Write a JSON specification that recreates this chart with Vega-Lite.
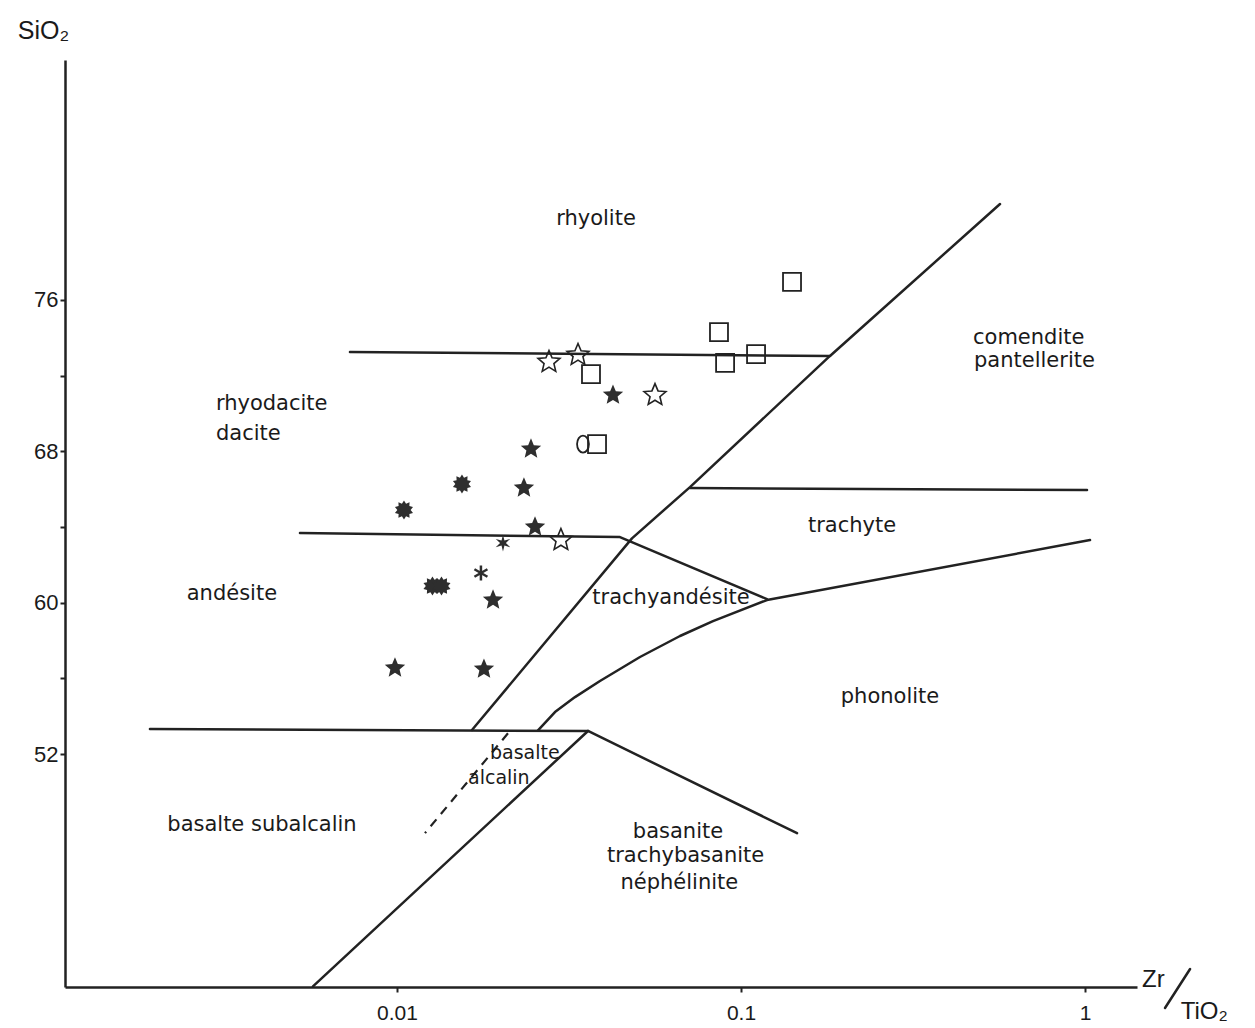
{
  "$schema": "https://vega.github.io/schema/vega-lite/v6.json",
  "width": 1072,
  "height": 927,
  "autosize": {"type": "none"},
  "padding": {"left": 65, "top": 60, "right": 118, "bottom": 41},
  "background": "white",
  "config": {"view": {"stroke": null}, "axis": {"grid": false}},
  "datasets": {
    "lines": [
      {"seg": "rhy", "ord": 1, "zr": 0.0073, "si": 73.25},
      {"seg": "rhy", "ord": 2, "zr": 0.1814, "si": 73.04},
      {"seg": "diag", "ord": 1, "zr": 0.01652, "si": 53.27},
      {"seg": "diag", "ord": 2, "zr": 0.0482, "si": 63.4},
      {"seg": "diag", "ord": 3, "zr": 0.07107, "si": 66.11},
      {"seg": "diag", "ord": 4, "zr": 0.1814, "si": 73.04},
      {"seg": "diag", "ord": 5, "zr": 0.5661, "si": 81.07},
      {"seg": "and", "ord": 1, "zr": 0.005224, "si": 63.68},
      {"seg": "and", "ord": 2, "zr": 0.04448, "si": 63.47},
      {"seg": "and", "ord": 3, "zr": 0.119, "si": 60.19},
      {"seg": "trt", "ord": 1, "zr": 0.07107, "si": 66.06},
      {"seg": "trt", "ord": 2, "zr": 1.0135, "si": 65.95},
      {"seg": "pho", "ord": 1, "zr": 0.0257, "si": 53.25},
      {"seg": "pho", "ord": 2, "zr": 0.02879, "si": 54.22},
      {"seg": "pho", "ord": 3, "zr": 0.03292, "si": 55.01},
      {"seg": "pho", "ord": 4, "zr": 0.03891, "si": 55.86},
      {"seg": "pho", "ord": 5, "zr": 0.05086, "si": 57.13},
      {"seg": "pho", "ord": 6, "zr": 0.06648, "si": 58.24},
      {"seg": "pho", "ord": 7, "zr": 0.08291, "si": 59.03},
      {"seg": "pho", "ord": 8, "zr": 0.119, "si": 60.14},
      {"seg": "pho", "ord": 9, "zr": 1.034, "si": 63.31},
      {"seg": "bas", "ord": 1, "zr": 0.001914, "si": 53.32},
      {"seg": "bas", "ord": 2, "zr": 0.03591, "si": 53.22},
      {"seg": "bsn", "ord": 1, "zr": 0.03591, "si": 53.22},
      {"seg": "bsn", "ord": 2, "zr": 0.1455, "si": 47.82},
      {"seg": "sub", "ord": 1, "zr": 0.03591, "si": 53.22},
      {"seg": "sub", "ord": 2, "zr": 0.005699, "si": 39.72},
      {"seg": "slash", "ord": 1, "zr": 1.708, "si": 38.58},
      {"seg": "slash", "ord": 2, "zr": 2.02, "si": 40.64}
    ],
    "dashed": [
      {"seg": "dash", "ord": 1, "zr": 0.02102, "si": 53.1},
      {"seg": "dash", "ord": 2, "zr": 0.01206, "si": 47.82}
    ],
    "points": [
      {"kind": "sq", "zr": 0.1407, "si": 76.95},
      {"kind": "sq", "zr": 0.0863, "si": 74.3},
      {"kind": "sq", "zr": 0.0899, "si": 72.67},
      {"kind": "sq", "zr": 0.1106, "si": 73.14},
      {"kind": "sq", "zr": 0.03664, "si": 72.08},
      {"kind": "sq", "zr": 0.03815, "si": 68.38},
      {"kind": "circ", "zr": 0.03473, "si": 68.38},
      {"kind": "ostar", "zr": 0.02766, "si": 72.72},
      {"kind": "ostar", "zr": 0.03359, "si": 73.09},
      {"kind": "ostar", "zr": 0.05623, "si": 70.97},
      {"kind": "ostar", "zr": 0.02996, "si": 63.31},
      {"kind": "fstar", "zr": 0.04245, "si": 70.97},
      {"kind": "fstar", "zr": 0.02452, "si": 68.12},
      {"kind": "fstar", "zr": 0.02339, "si": 66.06},
      {"kind": "fstar", "zr": 0.02519, "si": 64.0},
      {"kind": "fstar", "zr": 0.01902, "si": 60.14},
      {"kind": "fstar", "zr": 0.009867, "si": 56.55},
      {"kind": "fstar", "zr": 0.0179, "si": 56.49},
      {"kind": "burst", "zr": 0.01545, "si": 66.27},
      {"kind": "burst", "zr": 0.01048, "si": 64.9},
      {"kind": "burst", "zr": 0.01268, "si": 60.88},
      {"kind": "burst", "zr": 0.01347, "si": 60.88},
      {"kind": "star6", "zr": 0.02033, "si": 63.15},
      {"kind": "ast", "zr": 0.01754, "si": 61.57}
    ],
    "labels_c": [
      {"label": "rhyolite", "zr": 0.03789, "si": 80.28},
      {"label": "andésite", "zr": 0.003313, "si": 60.46},
      {"label": "trachyte", "zr": 0.2102, "si": 64.05},
      {"label": "trachyandésite", "zr": 0.06258, "si": 60.25},
      {"label": "phonolite", "zr": 0.2711, "si": 55.01},
      {"label": "basalte subalcalin", "zr": 0.004051, "si": 48.25},
      {"label": "basanite", "zr": 0.0656, "si": 47.88},
      {"label": "trachybasanite", "zr": 0.069, "si": 46.61},
      {"label": "néphélinite", "zr": 0.0662, "si": 45.18}
    ],
    "labels_l": [
      {"label": "rhyodacite", "zr": 0.002977, "si": 70.5},
      {"label": "dacite", "zr": 0.002977, "si": 68.91},
      {"label": "comendite", "zr": 0.4725, "si": 73.99},
      {"label": "pantellerite", "zr": 0.4757, "si": 72.77}
    ],
    "labels_s": [
      {"label": "basalte", "zr": 0.01864, "si": 52.08},
      {"label": "alcalin", "zr": 0.01609, "si": 50.76}
    ],
    "xtitle": [
      {"label": "Zr", "zr": 1.58, "si": 40.05},
      {"label": "TiO₂", "zr": 2.22, "si": 38.35}
    ]
  },
  "encoding": {
    "x": {
      "field": "zr",
      "type": "quantitative",
      "scale": {"type": "log", "domain": [0.001084, 1.416], "nice": false},
      "axis": {
        "values": [0.01, 0.1, 1],
        "format": "~g",
        "domainColor": "#222",
        "domainWidth": 2.5,
        "tickColor": "#222",
        "tickWidth": 2,
        "tickSize": 5,
        "labelFont": "Liberation Sans",
        "labelFontSize": 21,
        "labelColor": "#1a1a1a",
        "labelPadding": 10,
        "title": null
      }
    },
    "y": {
      "field": "si",
      "type": "quantitative",
      "scale": {"domain": [39.69, 88.68], "nice": false, "zero": false},
      "axis": {
        "values": [52, 56, 60, 64, 68, 72, 76],
        "labelExpr": "datum.value % 8 == 4 ? datum.label : ''",
        "domainColor": "#222",
        "domainWidth": 2.5,
        "tickColor": "#222",
        "tickWidth": 2,
        "tickSize": 5,
        "labelFont": "Liberation Sans",
        "labelFontSize": 22,
        "labelColor": "#1a1a1a",
        "labelPadding": 2,
        "title": "SiO₂",
        "titleFont": "Liberation Sans",
        "titleFontSize": 25,
        "titleFontWeight": "normal",
        "titleColor": "#1a1a1a",
        "titleAngle": 0,
        "titleAlign": "center",
        "titleBaseline": "middle",
        "titleX": -22,
        "titleY": -30
      }
    }
  },
  "layer": [
    {
      "data": {"name": "lines"},
      "mark": {"type": "line", "stroke": "#222", "strokeWidth": 2.5, "strokeCap": "round", "strokeJoin": "round"},
      "encoding": {"detail": {"field": "seg"}, "order": {"field": "ord"}}
    },
    {
      "data": {"name": "dashed"},
      "mark": {"type": "line", "stroke": "#222", "strokeWidth": 2.2, "strokeDash": [9, 7]},
      "encoding": {"detail": {"field": "seg"}, "order": {"field": "ord"}}
    },
    {
      "data": {"name": "points"},
      "transform": [{"filter": "datum.kind == 'sq'"}],
      "mark": {"type": "point", "shape": "square", "size": 324, "filled": false, "stroke": "#222", "strokeWidth": 1.8, "opacity": 1}
    },
    {
      "data": {"name": "points"},
      "transform": [{"filter": "datum.kind == 'circ'"}],
      "mark": {"type": "point", "shape": "M0,-1A0.7,1 0 1,1 0,1A0.7,1 0 1,1 0,-1Z", "size": 289, "filled": false, "stroke": "#222", "strokeWidth": 1.8, "opacity": 1}
    },
    {
      "data": {"name": "points"},
      "transform": [{"filter": "datum.kind == 'ostar'"}],
      "mark": {"type": "point", "shape": "M0,-1L0.265,-0.364L0.951,-0.309L0.428,0.139L0.588,0.809L0,0.45L-0.588,0.809L-0.428,0.139L-0.951,-0.309L-0.265,-0.364Z", "size": 530, "filled": false, "stroke": "#222", "strokeWidth": 1.6, "opacity": 1}
    },
    {
      "data": {"name": "points"},
      "transform": [{"filter": "datum.kind == 'fstar'"}],
      "mark": {"type": "point", "shape": "M0,-1L0.265,-0.364L0.951,-0.309L0.428,0.139L0.588,0.809L0,0.45L-0.588,0.809L-0.428,0.139L-0.951,-0.309L-0.265,-0.364Z", "size": 460, "filled": true, "fill": "#2e2e2e", "opacity": 1}
    },
    {
      "data": {"name": "points"},
      "transform": [{"filter": "datum.kind == 'burst'"}],
      "mark": {"type": "point", "shape": "M0,-1L0.216,-0.666L0.588,-0.809L0.566,-0.412L0.951,-0.309L0.7,0L0.951,0.309L0.566,0.412L0.588,0.809L0.216,0.666L0,1L-0.216,0.666L-0.588,0.809L-0.566,0.412L-0.951,0.309L-0.7,0L-0.951,-0.309L-0.566,-0.412L-0.588,-0.809L-0.216,-0.666Z", "size": 360, "filled": true, "fill": "#2e2e2e", "opacity": 1}
    },
    {
      "data": {"name": "points"},
      "transform": [{"filter": "datum.kind == 'star6'"}],
      "mark": {"type": "point", "shape": "M0,-1L0.175,-0.303L0.866,-0.5L0.35,0L0.866,0.5L0.175,0.303L0,1L-0.175,0.303L-0.866,0.5L-0.35,0L-0.866,-0.5L-0.175,-0.303Z", "size": 280, "filled": true, "fill": "#2e2e2e", "opacity": 1}
    },
    {
      "data": {"name": "points"},
      "transform": [{"filter": "datum.kind == 'ast'"}],
      "mark": {"type": "point", "shape": "M0,-1L0,1M-0.866,-0.5L0.866,0.5M-0.866,0.5L0.866,-0.5", "size": 225, "filled": false, "stroke": "#2e2e2e", "strokeWidth": 2.5, "opacity": 1}
    },
    {
      "data": {"name": "labels_c"},
      "mark": {"type": "text", "font": "DejaVu Sans", "fontSize": 21, "fill": "#1a1a1a", "align": "center", "baseline": "middle"},
      "encoding": {"text": {"field": "label"}}
    },
    {
      "data": {"name": "labels_l"},
      "mark": {"type": "text", "font": "DejaVu Sans", "fontSize": 21, "fill": "#1a1a1a", "align": "left", "baseline": "middle"},
      "encoding": {"text": {"field": "label"}}
    },
    {
      "data": {"name": "labels_s"},
      "mark": {"type": "text", "font": "DejaVu Sans", "fontSize": 19, "fill": "#1a1a1a", "align": "left", "baseline": "middle"},
      "encoding": {"text": {"field": "label"}}
    },
    {
      "data": {"name": "xtitle"},
      "mark": {"type": "text", "font": "Liberation Sans", "fontSize": 24, "fill": "#1a1a1a", "align": "center", "baseline": "middle"},
      "encoding": {"text": {"field": "label"}}
    }
  ]
}
